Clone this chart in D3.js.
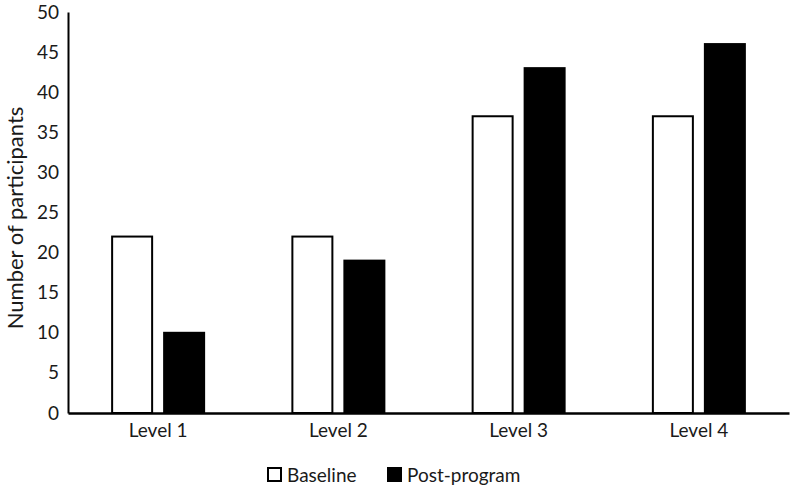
<!DOCTYPE html>
<html>
<head>
<meta charset="utf-8">
<script src="https://cdn.jsdelivr.net/npm/d3@7"></script>
<style>
  body { margin: 0; background: #fff; }
  text { font-family: Lato, "Open Sans", sans-serif; fill: #1a1a1a; }
</style>
</head>
<body>
<div id="chart"></div>
<script>
// data
var levels = ["Level 1", "Level 2", "Level 3", "Level 4"];
var baseline = [22, 22, 37, 37];
var postProgram = [10, 19, 43, 46];
var seriesNames = ["Baseline", "Post-program"];
var yTicks = [0, 5, 10, 15, 20, 25, 30, 35, 40, 45, 50];

var W = 792, H = 488;
var margin = {top: 12, right: 3, bottom: 75, left: 68};

var svg = d3.select("#chart")
  .append("svg")
  .attr("width", W)
  .attr("height", H);

var x = d3.scaleBand()
  .domain(levels)
  .range([margin.left, W - margin.right]);

var y = d3.scaleLinear()
  .domain([0, 50])
  .range([H - margin.bottom, margin.top]);

var barW = 40, off = 26;

var rows = levels.map((l, i) => ({level: l, vals: [baseline[i], postProgram[i]]}));

// bars
var g = svg.selectAll("g.lvl")
  .data(rows)
  .enter()
  .append("g")
  .attr("class", "lvl")
  .attr("transform", d => "translate(" + (x(d.level) + x.bandwidth() / 2) + ",0)");

g.selectAll("rect")
  .data(d => d.vals)
  .enter()
  .append("rect")
  .attr("x", (d, j) => (j == 0 ? -off : off) - barW / 2)
  .attr("width", barW)
  .attr("y", d => y(d))
  .attr("height", d => y(0) - y(d))
  .style("fill", (d, j) => j == 0 ? "#fff" : "#000")
  .style("stroke", "#000")
  .style("stroke-width", 2);

// y axis
var yAxis = svg.append("g")
  .attr("transform", "translate(" + margin.left + ",0)")
  .call(d3.axisLeft(y).tickValues(yTicks).tickSize(0).tickPadding(9));
yAxis.select(".domain").attr("stroke", "#000").attr("stroke-width", 2);
yAxis.selectAll("text").style("font-size", "19px").style("font-family", "Lato, sans-serif").attr("fill", "#1a1a1a");

// x axis
var xAxis = svg.append("g")
  .attr("transform", "translate(0," + y(0) + ")")
  .call(d3.axisBottom(x).tickSize(0).tickPadding(11));
xAxis.select(".domain").attr("stroke", "#000").attr("stroke-width", 2.5);
xAxis.selectAll("text").style("font-size", "19px").style("font-family", "Lato, sans-serif").attr("fill", "#1a1a1a");

// y title
svg.append("text")
  .attr("transform", "translate(23,218) rotate(-90)")
  .attr("text-anchor", "middle")
  .style("font-size", "22px")
  .text("Number of participants");

// legend
var legX = [268, 388];
var leg = svg.selectAll("g.leg")
  .data(seriesNames)
  .enter()
  .append("g")
  .attr("class", "leg")
  .attr("transform", (d, i) => "translate(" + legX[i] + ",468)");

leg.append("rect")
  .attr("width", 13)
  .attr("height", 13)
  .style("fill", (d, i) => i == 0 ? "#fff" : "#000")
  .style("stroke", "#000")
  .style("stroke-width", 2);

leg.append("text")
  .attr("x", 19)
  .attr("y", 7)
  .attr("dy", "0.35em")
  .style("font-size", "19px")
  .text(d => d);
</script>
</body>
</html>
